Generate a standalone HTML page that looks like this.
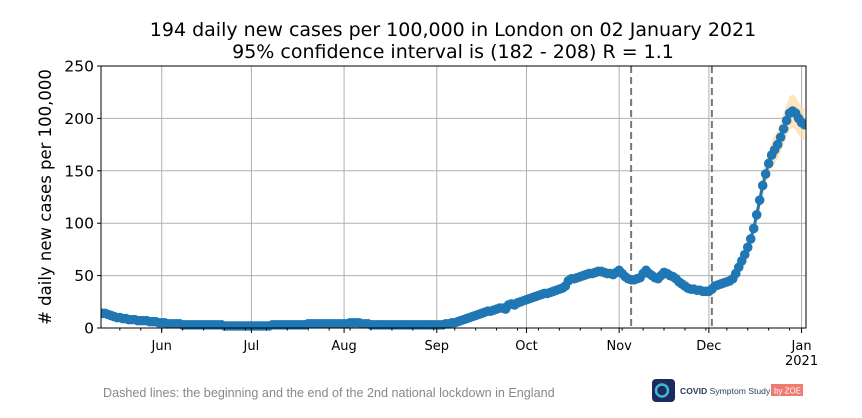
<!DOCTYPE html>
<html><head><meta charset="utf-8"><style>
body{margin:0;background:#fff;width:862px;height:413px;overflow:hidden;font-family:"Liberation Sans","DejaVu Sans",sans-serif}
svg text{font-family:"DejaVu Sans","Liberation Sans",sans-serif}
</style></head><body>
<svg id="chart" width="862" height="413" xmlns="http://www.w3.org/2000/svg">
<defs><clipPath id="plotclip"><rect x="101" y="60" width="705" height="275"/></clipPath></defs>
<text x="453" y="36" text-anchor="middle" font-size="19" fill="#000">194 daily new cases per 100,000 in London on 02 January 2021</text>
<text x="453" y="58" text-anchor="middle" font-size="19" fill="#000">95% confidence interval is (182 - 208) R = 1.1</text>
<text transform="translate(51,197) rotate(-90)" text-anchor="middle" font-size="16.5" fill="#000"># daily new cases per 100,000</text>
<g id="grid"></g>
<g id="band" clip-path="url(#plotclip)"></g>
<g id="series" clip-path="url(#plotclip)"></g>
<g id="axes"></g>
<text x="103" y="397" font-size="12.6" fill="#888" style="font-family:'Liberation Sans',sans-serif">Dashed lines: the beginning and the end of the 2nd national lockdown in England</text>
<g>
<rect x="652" y="379" width="23" height="23" rx="4" fill="#1c2a5c"/>
<circle cx="662" cy="390.5" r="6" fill="none" stroke="#3fb6d8" stroke-width="2.5"/>
<text x="680" y="394" font-size="8.6" fill="#2c3e60" style="font-family:'Liberation Sans',sans-serif"><tspan font-weight="bold">COVID</tspan> Symptom Study</text>
<rect x="771" y="384" width="32" height="12" fill="#f07a72"/>
<text x="774" y="393.5" font-size="8" fill="#fff" style="font-family:'Liberation Sans',sans-serif">by ZOE</text>
</g>
</svg>
<script>
// data
const startDate = [2020, 4, 11]; // May 11 2020 (month 0-based)
const cases = [
15,14,14,13,12,11,10,10,9,9,8,8,8,7,7,7,7,6,6,6,5,
5,5,4,4,4,4,4,3,3,3,3,3,3,3,3,3,3,3,3,3,3,2,2,2,2,2,2,2,2,2,
2,2,2,2,2,2,2,3,3,3,3,3,3,3,3,3,3,3,3,4,4,4,4,4,4,4,4,4,4,4,4,
4,4,5,5,5,5,4,4,4,3,3,3,3,3,3,3,3,3,3,3,3,3,3,3,3,3,3,3,3,3,3,
3,3,3,4,4,5,5,6,7,8,9,10,11,12,13,14,15,16,16,17,18,19,19,18,22,23,22,24,25,26,
27,28,29,30,31,32,33,33,34,35,36,37,38,40,45,47,47,48,49,50,51,52,52,53,54,54,53,52,52,51,53,
55,52,49,47,46,46,47,48,52,55,52,50,48,47,50,53,52,50,49,47,44,42,40,38,37,37,36,36,35,35,
35,37,40,41,42,43,44,45,47,52,58,64,70,77,85,95,108,122,136,147,157,165,170,175,182,190,198,205,207,205,200,
196,194];
const ciRatio = 0.07;
const yTicks = [0,50,100,150,200,250];
const monthTicks = [["Jun",[2020,5,1]],["Jul",[2020,6,1]],["Aug",[2020,7,1]],["Sep",[2020,8,1]],["Oct",[2020,9,1]],["Nov",[2020,10,1]],["Dec",[2020,11,1]],["Jan",[2021,0,1]]];
const lockdownDates = [[2020,10,5],[2020,11,2]];

const NS="http://www.w3.org/2000/svg";
const L=101,R=806,T=66,B=328;
const X0=161.7, PXD=2.99; // Jun 1 position and px per day
const d0=Date.UTC(...startDate);
const dayIdx=a=>(Date.UTC(...a)-d0)/864e5;
const xs=i=>X0+(i-21)*PXD;
const ys=v=>B-v*(B-T)/250;
function mk(tag,attrs,parent){const e=document.createElementNS(NS,tag);for(const k in attrs)e.setAttribute(k,attrs[k]);parent.appendChild(e);return e;}
const grid=document.getElementById('grid'),axes=document.getElementById('axes'),band=document.getElementById('band'),ser=document.getElementById('series');
yTicks.forEach(t=>{
  const g=mk('line',{x1:L,x2:R,y1:ys(t),y2:ys(t),stroke:'#b0b0b0','stroke-width':1},grid);
  
  
  mk('line',{x1:L-4,x2:L,y1:ys(t),y2:ys(t),stroke:'#000'},axes);
  const tx=mk('text',{x:L-7,y:ys(t)+5.5,'text-anchor':'end','font-size':15.5},axes);
  tx.textContent=t;
  
  
});
monthTicks.forEach(([lab,d])=>{
  const x=xs(dayIdx(d));
  const g=mk('line',{x1:x,x2:x,y1:T,y2:B,stroke:'#b0b0b0','stroke-width':1},grid);
  
  
  mk('line',{x1:x,x2:x,y1:B,y2:B+5,stroke:'#000'},axes);
  const tx=mk('text',{x:x,y:B+22,'text-anchor':'middle','font-size':13},axes);
  tx.textContent=lab;
  
  
});
const yr=mk('text',{x:xs(dayIdx([2021,0,1])),y:B+37,'text-anchor':'middle','font-size':13},axes);
yr.textContent='2021';


for(let i=0;i<=240;i++){const d=new Date(d0+i*864e5);const x=xs(i);if(d.getUTCDay()===1&&x>=L&&x<=R){mk('line',{x1:x,x2:x,y1:B,y2:B+2.5,stroke:'#000'},axes);}}
mk('rect',{x:L,y:T,width:R-L,height:B-T,fill:'none',stroke:'#000','stroke-width':1},axes);
lockdownDates.forEach(d=>{
  const x=xs(dayIdx(d));
  const l=mk('line',{x1:x,x2:x,y1:T,y2:B,stroke:'#777','stroke-width':2,'stroke-dasharray':'7,4'},grid);
  
  
});
let up=[],lo=[];
cases.forEach((v,i)=>{up.push(xs(i)+','+ys(v*(1+ciRatio)+1.5));lo.unshift(xs(i)+','+ys(Math.max(0,v*(1-ciRatio)-1.5)));});
mk('polygon',{points:up.concat(lo).join(' '),fill:'#ffdca8','fill-opacity':0.75,stroke:'none'},band);
mk('polyline',{points:cases.map((v,i)=>xs(i)+','+ys(v)).join(' '),fill:'none',stroke:'#1f77b4','stroke-width':3},ser);
cases.forEach((v,i)=>{
  const c=mk('circle',{cx:xs(i),cy:ys(v),r:4.8,fill:'#1f77b4'},ser);
  
  
});
</script>
</body></html>
